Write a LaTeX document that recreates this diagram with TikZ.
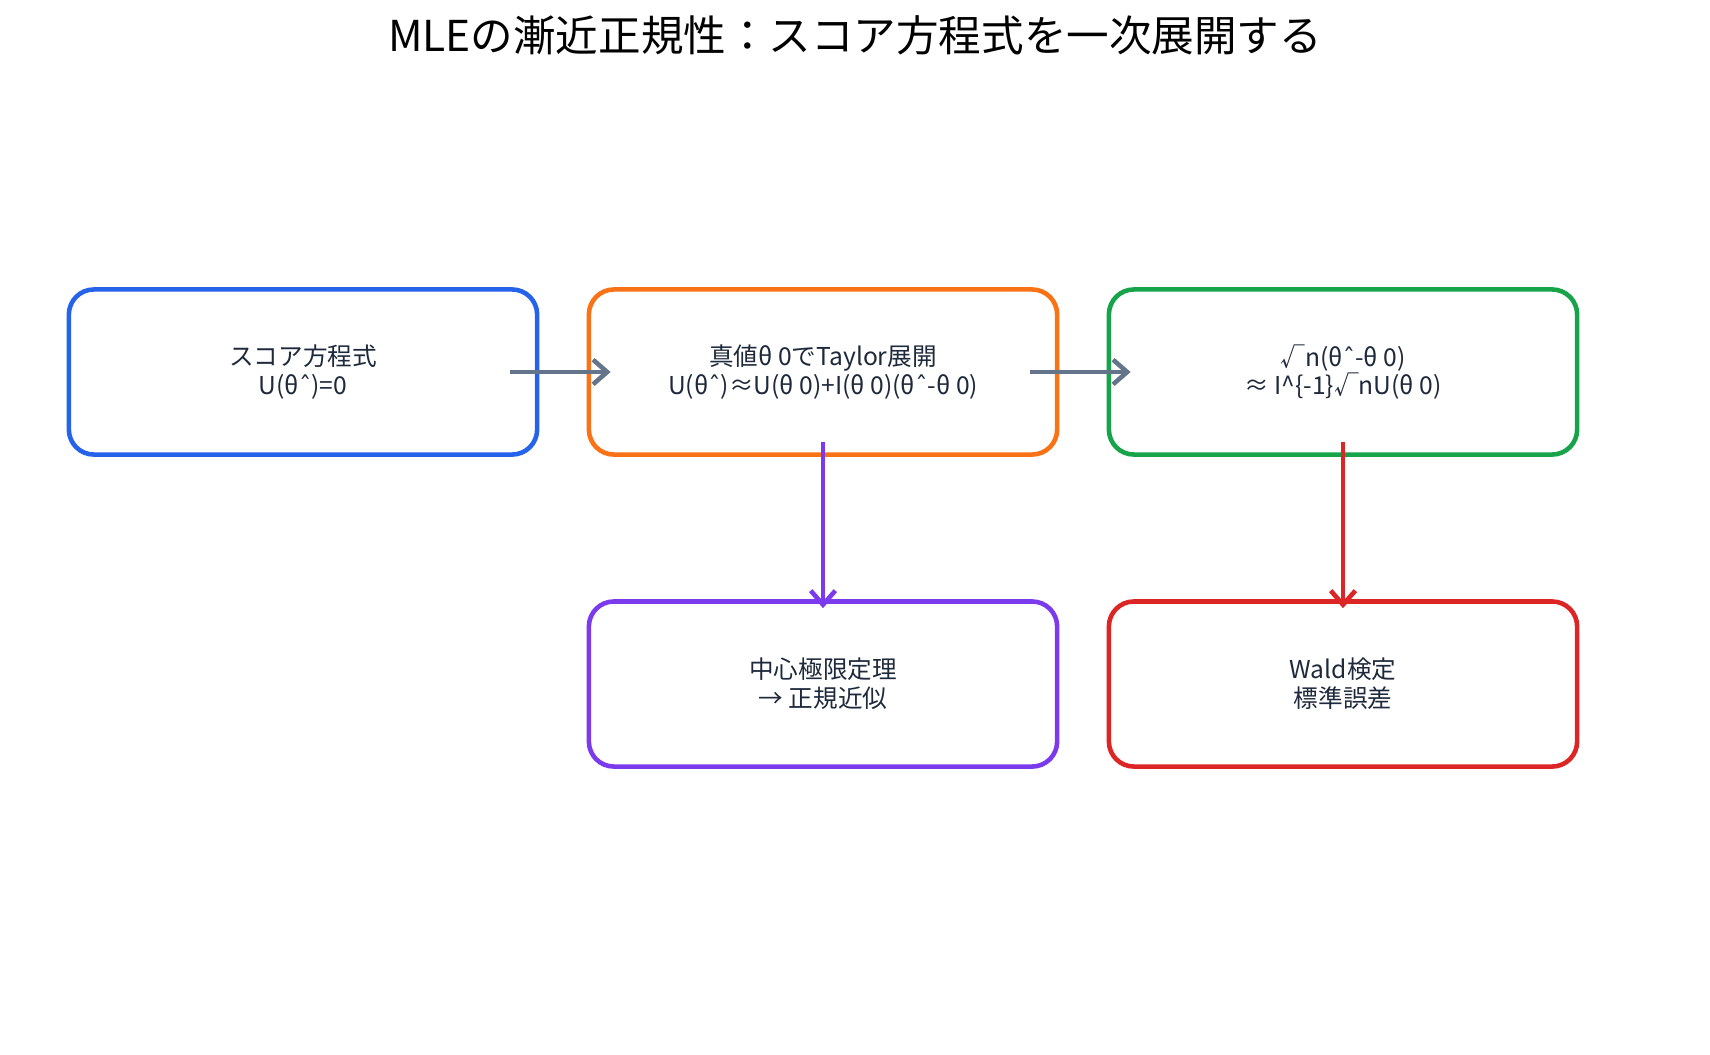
\documentclass[tikz,border=0pt]{standalone}
\usepackage{fontspec}
\setmainfont{Noto Sans CJK JP}
\newfontfamily\symfont{DejaVu Sans}
\usetikzlibrary{positioning, arrows.meta}
\definecolor{cblue}{HTML}{2563EB}
\definecolor{corange}{HTML}{F97316}
\definecolor{cgreen}{HTML}{16A34A}
\definecolor{cpurple}{HTML}{7C3AED}
\definecolor{cred}{HTML}{DC2626}
\definecolor{cgray}{HTML}{64748B}
\definecolor{ctext}{HTML}{1E293B}
\newcommand{\hatmark}{{\symfont ˆ}}

\begin{document}
\begin{tikzpicture}[x=0.01cm, y=-0.01cm,
    box/.style={draw, line width=1.3pt, rounded corners=0.25cm, minimum width=4.68cm,
      minimum height=1.65cm, align=center, text=ctext, font=\fontsize{7}{8.2}\selectfont},
    flow/.style={line width=1.3pt, -{Straight Barb[length=4pt,width=7pt]}}]
  \useasboundingbox (0,0) rectangle (1710,1054);

  \node[font=\fontsize{12.1}{14}\selectfont] (title) at (855,35) {MLEの漸近正規性：スコア方程式を一次展開する};

  \node[box, draw=cblue] (score) at (303,372) {スコア方程式\\U(θ\hatmark)=0};
  \node[box, draw=corange] (taylor) at (823,372) {真値θ 0でTaylor展開\\U(θ\hatmark)≈U(θ 0)+I(θ 0)(θ\hatmark-θ 0)};
  \node[box, draw=cgreen] (root) at (1343,372) {√n(θ\hatmark-θ 0)\\≈ I\textasciicircum\{-1\}√nU(θ 0)};
  \node[box, draw=cpurple] (clt) at (823,684) {中心極限定理\\→ 正規近似};
  \node[box, draw=cred] (wald) at (1343,684) {Wald検定\\標準誤差};

  % connectors
  \draw[flow, cgray] ([xshift=-0.29cm]score.east) -- ([xshift=0.24cm]taylor.west);
  \draw[flow, cgray] ([xshift=-0.29cm]taylor.east) -- ([xshift=0.24cm]root.west);
  \draw[flow, cpurple] ([yshift=0.15cm]taylor.south) -- ([yshift=-0.09cm]clt.north);
  \draw[flow, cred] ([yshift=0.15cm]root.south) -- ([yshift=-0.09cm]wald.north);
\end{tikzpicture}
\end{document}
